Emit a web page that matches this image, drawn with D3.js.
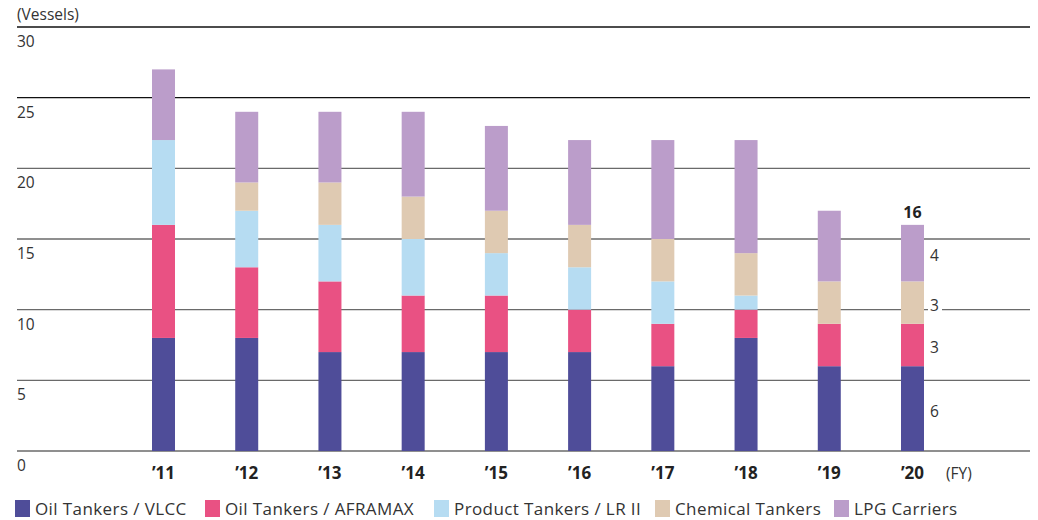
<!DOCTYPE html>
<html>
<head>
<meta charset="utf-8">
<script src="https://cdn.jsdelivr.net/npm/d3@7"></script>
<style>
  html, body { margin: 0; padding: 0; background: #fff; }
  svg { display: block; font-family: "Open Sans", "Noto Sans", sans-serif; }
</style>
</head>
<body>
<svg id="chart" width="1038" height="520"></svg>
<script>
// Fleet composition by fiscal year (number of vessels)
const years = ["’11", "’12", "’13", "’14", "’15", "’16", "’17", "’18", "’19", "’20"];
const seriesNames = ["Oil Tankers / VLCC", "Oil Tankers / AFRAMAX", "Product Tankers / LR II", "Chemical Tankers", "LPG Carriers"];
const vlcc     = [8, 8, 7, 7, 7, 7, 6, 8, 6, 6];
const aframax  = [8, 5, 5, 4, 4, 3, 3, 2, 3, 3];
const lr2      = [6, 4, 4, 4, 3, 3, 3, 1, 0, 0];
const chemical = [0, 2, 3, 3, 3, 3, 3, 3, 3, 3];
const lpg      = [5, 5, 5, 6, 6, 6, 7, 8, 5, 4];
const yTicks = [0, 5, 10, 15, 20, 25, 30];
const colors = ["#4f4d99", "#e95183", "#b6dcf2", "#dfcab2", "#bb9dca"];

const seriesValues = [vlcc, aframax, lr2, chemical, lpg];
const keys = ["vlcc", "aframax", "lr2", "chemical", "lpg"];
const rows = years.map((yr, i) => {
  const r = { year: yr };
  keys.forEach((k, j) => r[k] = seriesValues[j][i]);
  return r;
});

const svg = d3.select("#chart");
const x = d3.scalePoint().domain(years).range([163.5, 912.5]);
const y = d3.scaleLinear().domain([0, 30]).range([451, 27]);
const barW = 23;
const textColor = "#333";

// gridlines with value labels underneath
const grid = svg.append("g");
grid.selectAll("line").data(yTicks).join("line")
  .attr("x1", 17).attr("x2", 1030)
  .attr("y1", d => y(d)).attr("y2", d => y(d))
  .attr("stroke", d => d >= 25 ? "#111" : "#6a6a6a")
  .attr("stroke-width", 1.3);
grid.selectAll("text").data(yTicks).join("text")
  .attr("x", 17).attr("y", d => y(d) + 20)
  .attr("font-size", 15.5).attr("fill", textColor)
  .text(d => d);

svg.append("text").attr("x", 17).attr("y", 20)
  .attr("font-size", 15.5).attr("fill", textColor).text("(Vessels)");

// stacked bars
const stacked = d3.stack().keys(keys)(rows);
svg.append("g").selectAll("g").data(stacked).join("g")
  .attr("fill", (d, i) => colors[i])
  .selectAll("rect").data(d => d).join("rect")
  .attr("x", d => x(d.data.year) - barW / 2)
  .attr("width", barW)
  .attr("y", d => y(d[1]))
  .attr("height", d => y(d[0]) - y(d[1]));

// year labels
svg.append("g").selectAll("text").data(years).join("text")
  .attr("x", d => x(d)).attr("y", 479)
  .attr("text-anchor", "middle").attr("font-size", 17).attr("font-weight", 700)
  .attr("fill", "#222").text(d => d);
svg.append("text").attr("x", 946).attr("y", 479)
  .attr("font-size", 15.5).attr("fill", textColor).text("(FY)");

// breakdown for the latest year
const last = years.length - 1;
const lastYear = years[last];
const total = d3.sum(seriesValues, s => s[last]);
svg.append("text").attr("x", x(lastYear)).attr("y", 218)
  .attr("text-anchor", "middle").attr("font-size", 16).attr("font-weight", 700)
  .attr("fill", "#222").text(total);

const segs = stacked.map(s => s[last]).filter(d => d[1] - d[0] > 0);
const segG = svg.append("g").selectAll("g").data(segs).join("g")
  .attr("transform", d => `translate(${x(lastYear) + barW / 2 + 4},${y((d[0] + d[1]) / 2)})`);
segG.append("rect").attr("x", 0).attr("y", -8).attr("width", 14).attr("height", 18).attr("fill", "#fff");
segG.append("text").attr("x", 2).attr("y", 8)
  .attr("font-size", 15.5).attr("fill", textColor)
  .text(d => d[1] - d[0]);

// legend
const legendX = [15, 205, 434, 655, 834];
const legend = svg.append("g").selectAll("g").data(seriesNames).join("g")
  .attr("transform", (d, i) => `translate(${legendX[i]},500)`);
legend.append("rect").attr("width", 15).attr("height", 17).attr("fill", (d, i) => colors[i]);
legend.append("text").attr("x", 20).attr("y", 15)
  .attr("font-size", 17).attr("letter-spacing", 0.4).attr("fill", textColor).text(d => d);
</script>
</body>
</html>
